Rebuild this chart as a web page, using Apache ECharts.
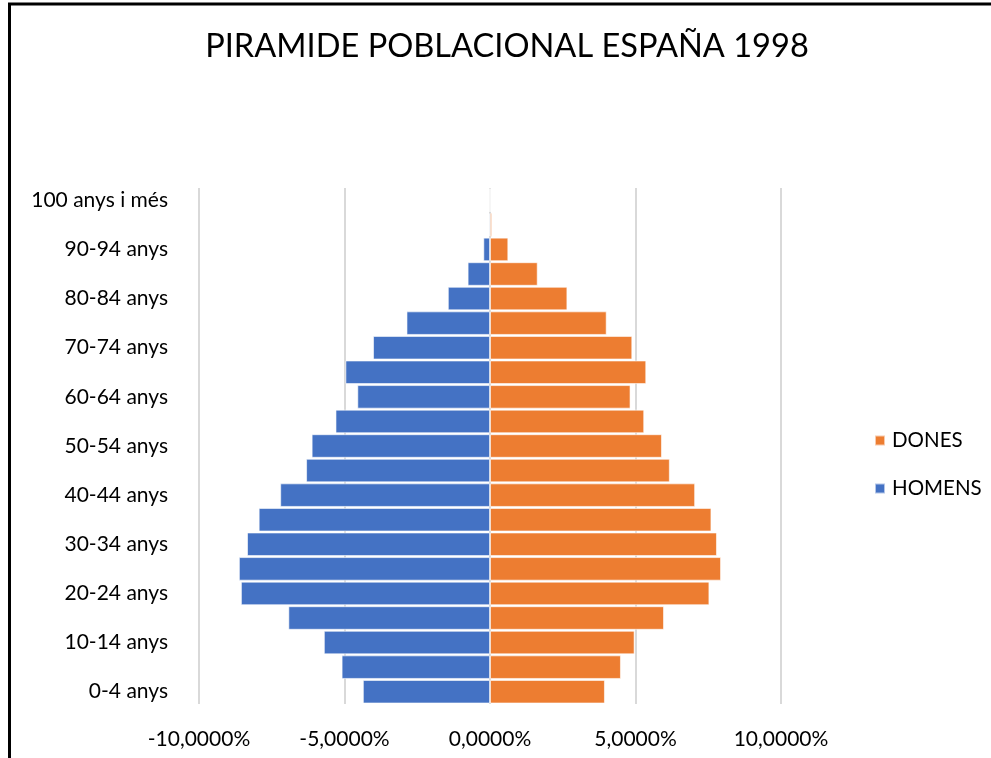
<!DOCTYPE html>
<html><head><meta charset="utf-8">
<script src="https://cdn.jsdelivr.net/npm/echarts@6/dist/echarts.min.js"></script>
<style>html,body{margin:0;padding:0;background:#fff}#c{width:991px;height:758px}</style>
</head><body><div id="c"></div>
<script>
const categories = ["0-4 anys","5-9 anys","10-14 anys","15-19 anys","20-24 anys","25-29 anys","30-34 anys","35-39 anys","40-44 anys","45-49 anys","50-54 anys","55-59 anys","60-64 anys","65-69 anys","70-74 anys","75-79 anys","80-84 anys","85-89 anys","90-94 anys","95-99 anys","100 anys i més"];
const homens = [-4.37,-5.10,-5.71,-6.93,-8.56,-8.63,-8.35,-7.95,-7.21,-6.32,-6.13,-5.31,-4.56,-4.97,-4.02,-2.87,-1.45,-0.77,-0.23,-0.04,-0.01];
const dones = [3.95,4.50,4.97,5.98,7.54,7.94,7.80,7.61,7.05,6.18,5.91,5.30,4.83,5.37,4.89,4.01,2.66,1.64,0.63,0.07,0.01];
const xTicks = {min:-10, max:10, interval:5};

const FONT = 'Lato';
const chart = echarts.init(document.getElementById('c'));
const fmt = v => v.toFixed(4).replace('.', ',') + '%';
chart.setOption({
  animation:false,
  textStyle:{fontFamily:FONT},
  title:{text:'PIRAMIDE POBLACIONAL ESPAÑA 1998', left:502, textAlign:'center', top:25,
    textStyle:{fontFamily:FONT, fontSize:32.6, fontWeight:'normal', color:'#000'}},
  legend:{orient:'vertical', left:869, top:425, itemGap:27, itemWidth:10, itemHeight:10,
    icon:'rect', data:['DONES','HOMENS'],
    textStyle:{fontFamily:FONT, fontSize:20.5, color:'#000', padding:[0,0,0,2]}},
  grid:{left:199, right:210, top:188, bottom:54, containLabel:false},
  xAxis:{type:'value', min:xTicks.min, max:xTicks.max, interval:xTicks.interval,
    axisLine:{show:false}, axisTick:{show:false},
    splitLine:{lineStyle:{color:'#d9d9d9', width:2}},
    axisLabel:{formatter:fmt, fontFamily:FONT, fontSize:21, color:'#000', margin:25}},
  yAxis:{type:'category', data:categories,
    axisLine:{show:false}, axisTick:{show:false},
    axisLabel:{interval:1, fontFamily:FONT, fontSize:21, color:'#000', margin:31}},
  series:[
    {name:'HOMENS', type:'bar', stack:'p', data:homens, barCategoryGap:'4%',
      itemStyle:{color:'#4472C4', borderColor:'rgba(255,255,255,0.6)', borderWidth:1}},
    {name:'DONES', type:'bar', stack:'p', data:dones, barCategoryGap:'4%',
      itemStyle:{color:'#ED7D31', borderColor:'rgba(255,255,255,0.6)', borderWidth:1}}
  ],
  graphic:[
    {type:'line', shape:{x1:8, y1:4, x2:991, y2:4}, style:{stroke:'#000', lineWidth:3}, z:100},
    {type:'line', shape:{x1:9.5, y1:3, x2:9.5, y2:758}, style:{stroke:'#000', lineWidth:3}, z:100}
  ]
});
</script></body></html>
